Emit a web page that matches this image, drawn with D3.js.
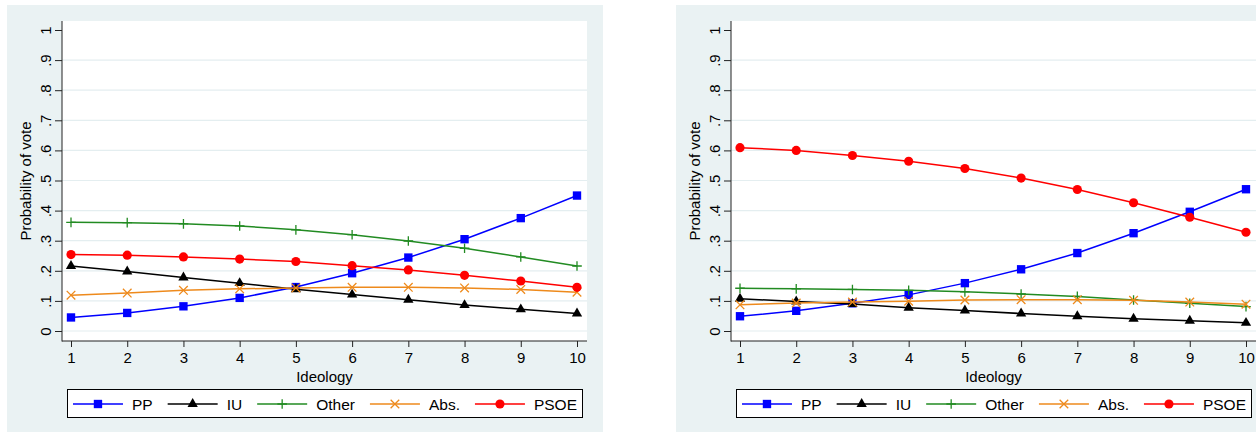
<!DOCTYPE html>
<html>
<head>
<meta charset="utf-8">
<script src="https://cdn.jsdelivr.net/npm/d3@7"></script>
<style>
  body { margin: 0; background: #fff; }
  text { font-family: "Liberation Sans", Arial, sans-serif; fill: #000; }
</style>
</head>
<body>
<svg id="chart" width="1256" height="432"></svg>
<script>
// x values and tick labels
const ideology = [1, 2, 3, 4, 5, 6, 7, 8, 9, 10];
const yTicks = [0, 0.1, 0.2, 0.3, 0.4, 0.5, 0.6, 0.7, 0.8, 0.9, 1];
const yTickLabels = ["0", ".1", ".2", ".3", ".4", ".5", ".6", ".7", ".8", ".9", "1"];
const parties = ["PP", "IU", "Other", "Abs.", "PSOE"];

// left panel
const leftPP    = [0.045, 0.060, 0.082, 0.110, 0.146, 0.192, 0.244, 0.305, 0.375, 0.450];
const leftIU    = [0.216, 0.198, 0.178, 0.159, 0.139, 0.121, 0.104, 0.086, 0.072, 0.058];
const leftOther = [0.361, 0.360, 0.356, 0.349, 0.336, 0.320, 0.299, 0.275, 0.246, 0.216];
const leftAbs   = [0.119, 0.126, 0.135, 0.140, 0.143, 0.145, 0.145, 0.143, 0.138, 0.129];
const leftPSOE  = [0.254, 0.252, 0.246, 0.239, 0.231, 0.217, 0.203, 0.185, 0.166, 0.145];

// right panel
const rightPP    = [0.049, 0.067, 0.092, 0.120, 0.159, 0.205, 0.259, 0.325, 0.396, 0.471];
const rightIU    = [0.107, 0.098, 0.090, 0.077, 0.068, 0.058, 0.049, 0.041, 0.034, 0.027];
const rightOther = [0.142, 0.140, 0.138, 0.135, 0.130, 0.123, 0.115, 0.103, 0.092, 0.081];
const rightAbs   = [0.087, 0.093, 0.096, 0.099, 0.103, 0.104, 0.104, 0.102, 0.096, 0.089];
const rightPSOE  = [0.609, 0.600, 0.583, 0.564, 0.540, 0.508, 0.470, 0.426, 0.378, 0.328];

const colors = ["#0000ff", "#000000", "#228b22", "#ee8a1c", "#ff0000"];
const markers = ["square", "triangle", "plus", "x", "circle"];

const svg = d3.select("#chart");

function drawMarker(g, type, color) {
    if (type === "square") {
        g.append("path").attr("d", d3.symbol(d3.symbolSquare, 70)()).attr("fill", color);
    } else if (type === "triangle") {
        g.append("path").attr("d", d3.symbol(d3.symbolTriangle, 46)()).attr("fill", color);
    } else if (type === "circle") {
        g.append("path").attr("d", d3.symbol(d3.symbolCircle, 66)()).attr("fill", color);
    } else if (type === "plus") {
        g.append("path").attr("d", "M-4.8,0H4.8M0,-4.8V4.8")
         .attr("stroke", color).attr("stroke-width", 1.3).attr("fill", "none");
    } else {
        g.append("path").attr("d", "M-4.3,-4.3L4.3,4.3M-4.3,4.3L4.3,-4.3")
         .attr("stroke", color).attr("stroke-width", 1.3).attr("fill", "none");
    }
}

function panel(dx, seriesList) {
    let g = svg.append("g").attr("transform", `translate(${dx},0)`);

    g.append("rect").attr("x", 7).attr("y", 5).attr("width", 596).attr("height", 427)
     .attr("fill", "#eaf2f3");
    g.append("rect").attr("x", 62).attr("y", 21).attr("width", 525).attr("height", 320)
     .attr("fill", "#fff");

    let x = d3.scaleLinear().domain([1, 10]).range([71, 577]);
    let y = d3.scaleLinear().domain([0, 1]).range([331, 30]);

    // grid
    g.append("g").selectAll("line").data(yTicks.filter(d => d < 1)).enter().append("line")
     .attr("x1", 62).attr("x2", 587)
     .attr("y1", d => y(d)).attr("y2", d => y(d))
     .attr("stroke", "#e4eef0").attr("stroke-width", 1.2);

    // y axis
    let yAxis = g.append("g").attr("transform", "translate(62,0)")
        .call(d3.axisLeft(y).tickValues(yTicks).tickSize(7)
              .tickFormat((d, i) => yTickLabels[i]));
    yAxis.select(".domain").attr("d", "M0,21V341.5").attr("stroke", "#222");
    yAxis.selectAll(".tick line").attr("stroke", "#222");
    yAxis.selectAll(".tick text")
         .attr("x", null).attr("dy", null)
         .attr("transform", "translate(-11,0) rotate(-90)")
         .attr("text-anchor", "middle")
         .style("font-size", "15px");

    // x axis
    let xAxis = g.append("g").attr("transform", "translate(0,341)")
        .call(d3.axisBottom(x).tickValues(ideology).tickSize(6).tickFormat(d3.format("d")));
    xAxis.select(".domain").attr("d", "M62,0H587").attr("stroke", "#222");
    xAxis.selectAll(".tick line").attr("stroke", "#222");
    xAxis.selectAll(".tick text").attr("y", 21.5).attr("dy", null)
         .style("font-size", "15px");

    g.append("text").attr("x", 324.5).attr("y", 382).attr("text-anchor", "middle")
     .style("font-size", "15px").text("Ideology");
    g.append("text").attr("transform", "translate(31,181) rotate(-90)")
     .attr("text-anchor", "middle").style("font-size", "15px").text("Probability of vote");

    // series
    let line = d3.line().x((d, i) => x(ideology[i])).y(d => y(d));
    seriesList.forEach((vals, k) => {
        g.append("path").datum(vals).attr("d", line)
         .attr("fill", "none").attr("stroke", colors[k]).attr("stroke-width", 1.5);
        vals.forEach((v, i) => {
            let m = g.append("g").attr("transform", `translate(${x(ideology[i])},${y(v)})`);
            drawMarker(m, markers[k], colors[k]);
        });
    });

    // legend
    let leg = g.append("g");
    leg.append("rect").attr("x", 67.5).attr("y", 389.5).attr("width", 515).attr("height", 28)
       .attr("fill", "#fff").attr("stroke", "#000").attr("stroke-width", 1);
    let items = leg.selectAll("g.item").data(parties).enter().append("g").attr("class", "item");
    items.append("text").attr("y", 409.5).style("font-size", "15.5px").text(d => d);
    let widths = [];
    items.each(function () { widths.push(d3.select(this).select("text").node().getComputedTextLength()); });
    let keyLen = 50, gapText = 9, gapItem = 15;
    let total = d3.sum(widths) + parties.length * (keyLen + gapText) + (parties.length - 1) * gapItem;
    let cx = 67.5 + (515 - total) / 2;
    items.each(function (d, k) {
        let it = d3.select(this);
        it.append("line").attr("x1", cx).attr("x2", cx + keyLen).attr("y1", 404).attr("y2", 404)
          .attr("stroke", colors[k]).attr("stroke-width", 1.5);
        let m = it.append("g").attr("transform", `translate(${cx + keyLen / 2},404)`);
        drawMarker(m, markers[k], colors[k]);
        it.select("text").attr("x", cx + keyLen + gapText);
        cx += keyLen + gapText + widths[k] + gapItem;
    });
}

panel(0, [leftPP, leftIU, leftOther, leftAbs, leftPSOE]);
panel(669, [rightPP, rightIU, rightOther, rightAbs, rightPSOE]);
</script>
</body>
</html>
